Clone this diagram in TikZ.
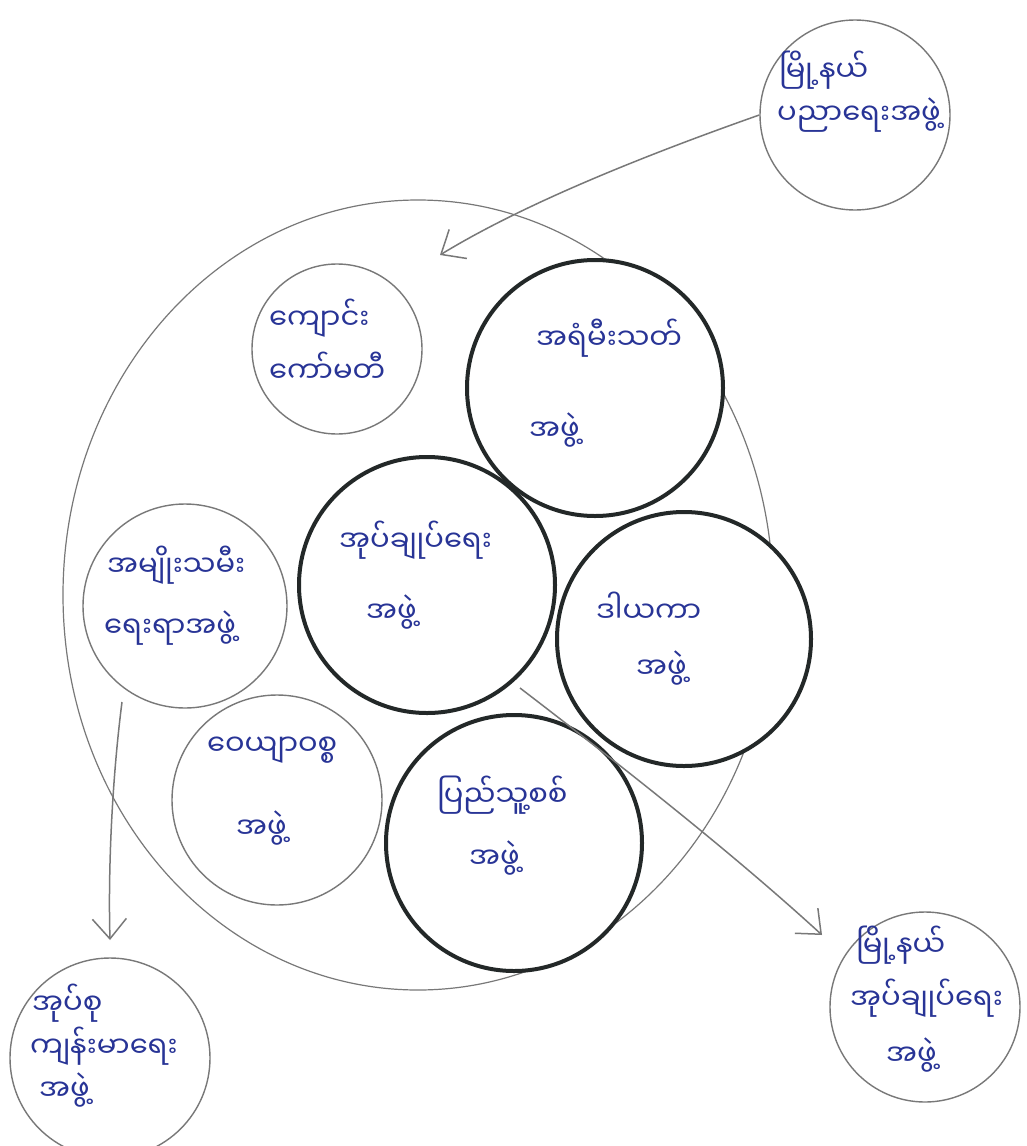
\documentclass[tikz,border=0pt]{standalone}
\usepackage{fontspec}
\newfontfamily\mya[Script=Myanmar]{Noto Sans Myanmar UI}
\usetikzlibrary{arrows.meta,shapes.geometric}
\definecolor{ink}{RGB}{40,52,150}
\definecolor{pencil}{RGB}{120,120,120}
\definecolor{thick}{RGB}{35,40,40}
\tikzset{
  thinc/.style={circle,draw=pencil,fill=white,line width=1.4pt,inner sep=0pt},
  thickc/.style={circle,draw=thick,fill=white,line width=4pt,inner sep=0pt},
  lbl/.style={text=ink,font=\mya\fontsize{29}{36}\selectfont,inner sep=1pt,anchor=west},
  conn/.style={draw=pencil,line width=1.5pt,-{Straight Barb[length=20pt,width=34pt,line width=1.5pt]}}
}
\begin{document}
\begin{tikzpicture}[x=1pt,y=-1pt]
\useasboundingbox (0,0) rectangle (1027,1146);
\fill[white] (0,0) rectangle (1027,1146);
% outer
\node[ellipse,draw=pencil,line width=1.2pt,minimum width=710pt,minimum height=790pt,inner sep=0pt] (outer) at (418,595) {};
% circles
\node[thinc,minimum size=170pt] (school) at (337,349) {};
\node[thickc,minimum size=256pt] (fire) at (595,388) {};
\node[thickc,minimum size=256pt] (admin) at (427,585) {};
\node[thickc,minimum size=254pt] (donor) at (684,639) {};
\node[thinc,minimum size=204pt] (women) at (185,606) {};
\node[thinc,minimum size=210pt] (serv) at (277,800) {};
\node[thickc,minimum size=256pt] (mil) at (514,843) {};
\node[thinc,minimum size=190pt] (tr) at (855,115) {};
\node[thinc,minimum size=200pt] (bl) at (110,1058) {};
\node[thinc,minimum size=190pt] (br) at (925,1007) {};
% labels
\node[lbl] (t1a) at (778,70) {မြို့နယ်};
\node[lbl] (t1b) at (776,115) {ပညာရေးအဖွဲ့};
\node[lbl] (t2a) at (268,318) {ကျောင်း};
\node[lbl] (t2b) at (268,367) {ကော်မတီ};
\node[lbl] (t3a) at (535,338) {အရံမီးသတ်};
\node[lbl] (t3b) at (528,430) {အဖွဲ့};
\node[lbl] (t4a) at (338,540) {အုပ်ချုပ်ရေး};
\node[lbl] (t4b) at (365,612) {အဖွဲ့};
\node[lbl] (t5a) at (595,607) {ဒါယကာ};
\node[lbl] (t5b) at (635,668) {အဖွဲ့};
\node[lbl] (t6a) at (106,565) {အမျိုးသမီး};
\node[lbl] (t6b) at (103,628) {ရေးရာအဖွဲ့};
\node[lbl] (t7a) at (206,750) {ဝေယျာဝစ္စ};
\node[lbl] (t7b) at (235,828) {အဖွဲ့};
\node[lbl] (t8a) at (436,795) {ပြည်သူ့စစ်};
\node[lbl] (t8b) at (468,858) {အဖွဲ့};
\node[lbl] (t9a) at (31,1003) {အုပ်စု};
\node[lbl] (t9b) at (29,1046) {ကျန်းမာရေး};
\node[lbl] (t9c) at (38,1090) {အဖွဲ့};
\node[lbl] (t10a) at (855,945) {မြို့နယ်};
\node[lbl] (t10b) at (849,998) {အုပ်ချုပ်ရေး};
\node[lbl] (t10c) at (885,1055) {အဖွဲ့};
% arrows
\coordinate (e1) at (440,255);
\coordinate (s2) at (122,702);
\coordinate (e2) at (110,940);
\coordinate (s3) at (520,688);
\coordinate (e3) at (822,935);
\draw[conn] (tr.west) .. controls (660,150) and (530,200) .. (e1);
\draw[conn] (s2) .. controls (112,780) and (108,870) .. (e2);
\draw[conn] (s3) .. controls (640,780) and (740,860) .. (e3);
\end{tikzpicture}
\end{document}
